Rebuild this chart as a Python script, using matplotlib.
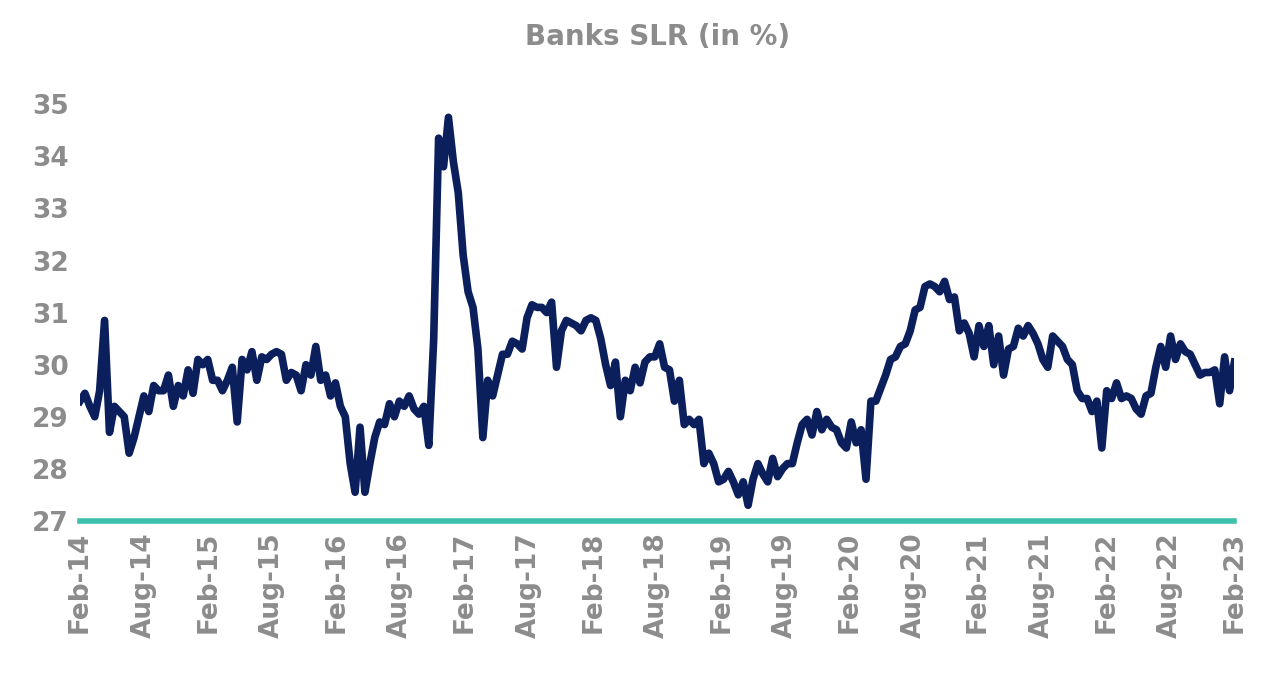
import matplotlib
matplotlib.use("Agg")
import matplotlib.pyplot as plt
import matplotlib.dates as mdates
import numpy as np
import pandas as pd

title = "Banks SLR (in %)"
start_date = "2014-02-01"
end_date = "2023-02-01"
slr_values = [
29.3,29.45,29.2,29.0,29.5,30.85,28.7,29.2,29.1,29.0,28.3,28.6,29.0,29.4,29.1,29.6,29.5,29.5,29.8,29.2,
29.6,29.4,29.9,29.45,30.1,30.0,30.1,29.7,29.7,29.5,29.7,29.95,28.9,30.1,29.9,30.25,29.7,30.15,30.1,30.2,
30.25,30.2,29.7,29.85,29.8,29.5,30.0,29.8,30.35,29.7,29.8,29.4,29.65,29.2,29.0,28.1,27.55,28.8,27.55,28.1,
28.6,28.9,28.85,29.25,29.0,29.3,29.2,29.4,29.15,29.05,29.2,28.45,30.5,34.35,33.8,34.75,33.9,33.3,32.1,31.4,
31.1,30.3,28.6,29.7,29.4,29.8,30.2,30.2,30.45,30.4,30.3,30.9,31.15,31.1,31.1,31.0,31.2,29.95,30.65,30.85,
30.8,30.75,30.65,30.85,30.9,30.85,30.5,30.0,29.6,30.05,29.0,29.7,29.5,29.95,29.65,30.05,30.15,30.15,30.4,29.95,
29.9,29.3,29.7,28.85,28.95,28.85,28.95,28.1,28.3,28.1,27.75,27.8,27.95,27.75,27.5,27.75,27.3,27.8,28.1,27.9,
27.75,28.2,27.85,28.0,28.1,28.1,28.5,28.85,28.95,28.65,29.1,28.75,28.95,28.8,28.75,28.5,28.4,28.9,28.5,28.75,
27.8,29.3,29.3,29.55,29.8,30.1,30.15,30.35,30.4,30.65,31.05,31.1,31.5,31.55,31.5,31.4,31.6,31.25,31.3,30.65,
30.8,30.6,30.15,30.75,30.35,30.75,30.0,30.55,29.8,30.3,30.35,30.7,30.55,30.75,30.6,30.4,30.1,29.95,30.55,30.45,
30.35,30.1,30.0,29.5,29.35,29.35,29.1,29.3,28.4,29.5,29.35,29.65,29.35,29.4,29.35,29.15,29.05,29.4,29.45,29.95,
30.35,29.95,30.55,30.1,30.4,30.25,30.2,30.0,29.8,29.85,29.85,29.9,29.25,30.15,29.5,30.05]
y_ticks = [27, 28, 29, 30, 31, 32, 33, 34, 35]

t0 = pd.Timestamp(start_date).value
t1 = pd.Timestamp(end_date).value
dates = pd.to_datetime(np.linspace(t0, t1, len(slr_values)))
tick_dates = pd.date_range(start_date, end_date, freq="6MS")

grey = "#8C8C8C"
fig = plt.figure(figsize=(12.7, 6.73), dpi=100)
ax = fig.add_axes([0.063, 0.226, 0.909, 0.65])
ax.plot(dates, slr_values, color="#0B1F5C", lw=5.5, solid_joinstyle="round")
ax.set_ylim(27, 35.4)
ax.set_xlim(pd.Timestamp(start_date), pd.Timestamp(end_date))
ax.set_yticks(y_ticks)
ax.set_xticks(tick_dates)
ax.xaxis.set_major_formatter(mdates.DateFormatter("%b-%y"))
for s in ["top", "right", "left"]:
    ax.spines[s].set_visible(False)
ax.spines["bottom"].set_color("#3EC1AA")
ax.spines["bottom"].set_linewidth(4)
ax.tick_params(length=0, labelsize=19, colors=grey, pad=8)
plt.setp(ax.get_xticklabels(), rotation=90, fontweight="bold")
plt.setp(ax.get_yticklabels(), fontweight="bold")
for lab in ax.get_yticklabels():
    lab.set_horizontalalignment("right")
ax.set_title(title, color=grey, fontsize=20, fontweight="bold", pad=28)
fig.savefig("out.png", dpi=100)
